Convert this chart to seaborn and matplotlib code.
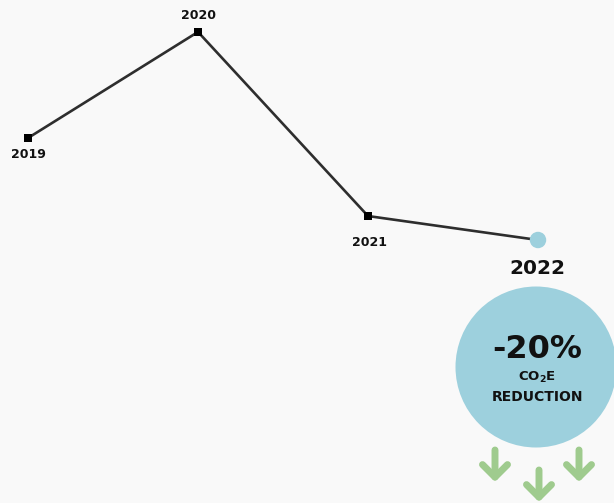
import matplotlib
matplotlib.use("Agg")
import matplotlib.pyplot as plt
import seaborn as sns
import pandas as pd
from matplotlib.patches import Ellipse

# Emissions index by year (2019 = 100)
years = [2019, 2020, 2021, 2022]
emissions = [100, 120.8, 84.7, 80]
year_labels = ["2019", "2020", "2021", "2022"]
reduction_pct = -20

df = pd.DataFrame({"year": years, "emissions": emissions})

sns.set_theme(style="white")
plt.rcParams["font.family"] = ["DejaVu Sans"]

W, H = 614, 503
fig = plt.figure(figsize=(W / 100, H / 100), dpi=100, facecolor="#f9f9f9")
ax = fig.add_axes([0, 0, 1, 1])
ax.set_facecolor("#f9f9f9")

# pixel scale: 170 px per year, 5.1 px per index unit
px_x, px_y = 170.0, 5.1
x0 = 2019 - 28 / px_x
y_top = 100 + 138 / px_y
ax.set_xlim(x0, x0 + W / px_x)
ax.set_ylim(y_top - H / px_y, y_top)
ax.axis("off")

sns.lineplot(data=df, x="year", y="emissions", ax=ax, color="#2e2e2e",
             linewidth=1.9, zorder=2)
sns.scatterplot(data=df.iloc[:3], x="year", y="emissions", ax=ax, marker="s",
                s=34, color="black", edgecolor="black", linewidth=0, zorder=3)
sns.scatterplot(data=df.iloc[3:], x="year", y="emissions", ax=ax, marker="o",
                s=140, color="#9dd0dd", edgecolor="none", zorder=3)

def dx(px):
    return px / px_x

def dy(px):
    return px / px_y

# year labels
offsets = [(0, -17), (0, 16), (1, -26)]
for (yr, val, lab), (ox, oy) in zip(zip(years[:3], emissions[:3], year_labels[:3]), offsets):
    ax.text(yr + dx(ox), val + dy(oy), lab, ha="center", va="center",
            fontsize=9, fontweight="bold", color="#111111")

last_x, last_y = years[-1], emissions[-1]
ax.text(last_x - dx(1), last_y - dy(28), year_labels[-1], ha="center", va="center",
        fontsize=14.5, fontweight="bold", color="#111111")

# summary bubble
cx, cy = last_x - dx(2), last_y - dy(127)
ax.add_patch(Ellipse((cx, cy), width=dx(161), height=dy(161),
                     facecolor="#9dd0dd", edgecolor="none", zorder=1))
ax.text(cx + dx(1), cy + dy(18), f"{reduction_pct}%", ha="center", va="center",
        fontsize=23, fontweight="bold", color="#111111", zorder=4)
ax.text(cx + dx(1), cy - dy(10), "CO$_\\mathbf{2}$E", ha="center", va="center",
        fontsize=9.5, fontweight="bold", color="#111111", zorder=4)
ax.text(cx + dx(1), cy - dy(30), "REDUCTION", ha="center", va="center",
        fontsize=10, fontweight="bold", color="#111111", zorder=4)

# downward arrows below the bubble
arrow_color = "#9fcb8e"
for ax_px, top_px in [(-41, 450), (3, 470), (43, 450)]:
    xa = cx + dx(ax_px)
    ytop = y_top - dy(top_px)
    ybot = y_top - dy(top_px + 32)
    ax.annotate("", xy=(xa, ybot), xytext=(xa, ytop),
                arrowprops=dict(arrowstyle="->,head_length=0.75,head_width=0.75",
                                color=arrow_color, lw=5,
                                shrinkA=0, shrinkB=0))

fig.savefig("out.png", dpi=100, facecolor=fig.get_facecolor())
